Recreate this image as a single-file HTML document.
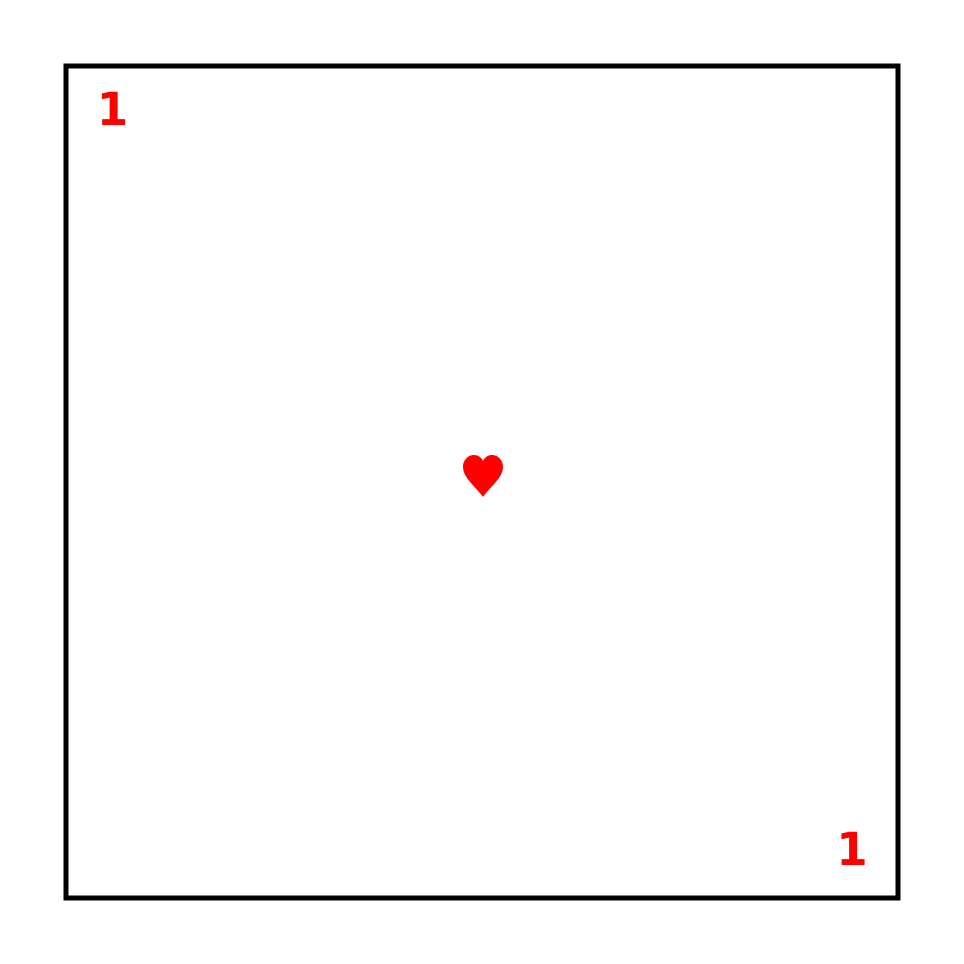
<!DOCTYPE html>
<html><head><meta charset="utf-8"><style>
html,body{margin:0;padding:0;background:#fff;}
svg{display:block;}
</style></head><body>
<svg width="964" height="964" viewBox="0 0 964 964">
  <rect x="66" y="66" width="832" height="832" fill="#fff" stroke="#000" stroke-width="5"/>
  <text x="112.5" y="125" text-anchor="middle" font-family="DejaVu Sans, Liberation Sans, sans-serif" font-weight="bold" font-size="45" fill="#ff0000">1</text>
  <text x="852" y="865" text-anchor="middle" font-family="DejaVu Sans, Liberation Sans, sans-serif" font-weight="bold" font-size="45" fill="#ff0000">1</text>
  <path d="M483,497 C477,488 463,478 463,467 C463,460 468,455 474,455 C478,455 481,457 483,461 C485,457 488,455 492,455 C498,455 503,460 503,467 C503,478 489,488 483,497 Z" fill="#ff0000"/>
</svg>
</body></html>
